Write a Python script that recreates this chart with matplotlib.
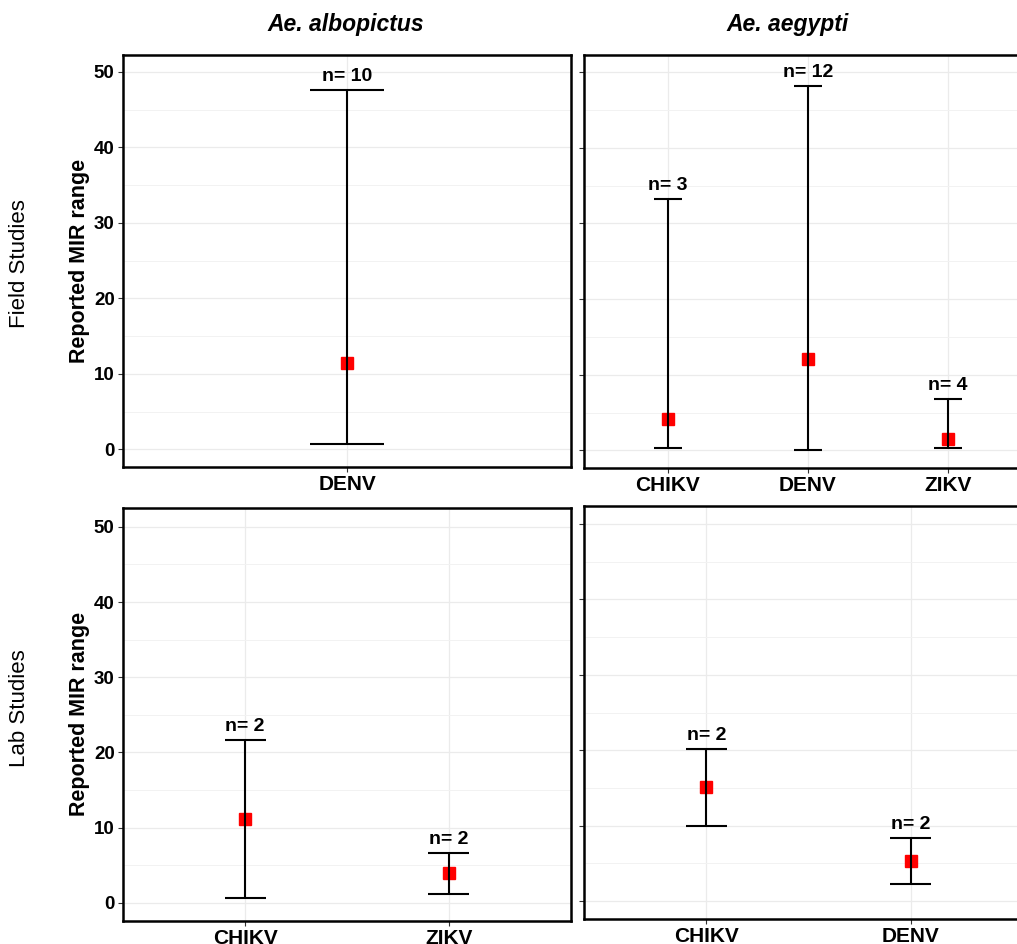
import matplotlib
matplotlib.use('Agg')
import matplotlib.pyplot as plt
from matplotlib.ticker import MultipleLocator

plt.rcParams['font.family'] = ['Liberation Sans', 'DejaVu Sans']

# Field studies - Ae. albopictus
field_albo_virus = ['DENV']
field_albo_low = [0.7]
field_albo_high = [47.6]
field_albo_mean = [11.5]
field_albo_n = [10]

# Field studies - Ae. aegypti
field_aeg_virus = ['CHIKV', 'DENV', 'ZIKV']
field_aeg_low = [0.3, 0.0, 0.3]
field_aeg_high = [33.2, 48.1, 6.8]
field_aeg_mean = [4.1, 12.1, 1.5]
field_aeg_n = [3, 12, 4]

# Lab studies - Ae. albopictus
lab_albo_virus = ['CHIKV', 'ZIKV']
lab_albo_low = [0.7, 1.2]
lab_albo_high = [21.7, 6.7]
lab_albo_mean = [11.2, 4.0]
lab_albo_n = [2, 2]

# Lab studies - Ae. aegypti
lab_aeg_virus = ['CHIKV', 'DENV']
lab_aeg_low = [10.0, 2.2]
lab_aeg_high = [20.2, 8.4]
lab_aeg_mean = [15.1, 5.3]
lab_aeg_n = [2, 2]

W, H = 1017, 944


def px_axes(fig, left, top, right, bottom):
    return fig.add_axes([left / W, 1 - bottom / H, (right - left) / W, (bottom - top) / H])


def draw_panel(ax, viruses, low, high, mean, n, ylim, show_labels):
    xs = list(range(1, len(viruses) + 1))
    ax.set_xlim(0.4, len(viruses) + 0.6)
    ax.set_ylim(*ylim)
    ax.set_xticks(xs)
    ax.set_xticklabels(viruses, fontsize=15, fontweight='bold')
    ax.yaxis.set_major_locator(MultipleLocator(10))
    ax.yaxis.set_minor_locator(MultipleLocator(5))
    ax.grid(which='major', color='#EBEBEB', linewidth=0.9, zorder=0)
    ax.grid(which='minor', axis='y', color='#F2F2F2', linewidth=0.7, zorder=0)
    ax.set_axisbelow(True)
    ax.tick_params(which='major', length=3.5, width=0.8, color='#333333', pad=2.5)
    ax.tick_params(which='minor', length=0)
    ax.tick_params(axis='y', labelsize=13.5)
    for lab in ax.get_yticklabels():
        lab.set_fontweight('bold')
    if not show_labels:
        ax.tick_params(axis='y', labelleft=False)
    for sp in ax.spines.values():
        sp.set_linewidth(1.8)
        sp.set_color('black')

    ax.plot(xs, mean, linestyle='none', marker='s', markersize=8,
            color='#FF0000', zorder=2)
    ax.vlines(xs, low, high, color='black', linewidth=1.5, zorder=3)
    ax.hlines(low, [x - 0.1 for x in xs], [x + 0.1 for x in xs],
              color='black', linewidth=1.5, zorder=3)
    ax.hlines(high, [x - 0.1 for x in xs], [x + 0.1 for x in xs],
              color='black', linewidth=1.5, zorder=3)
    for x, h, k in zip(xs, high, n):
        ax.annotate(f'n= {k}', (x, h), xytext=(0, 6.5), textcoords='offset points',
                    ha='center', va='baseline', fontsize=14, fontweight='bold')


fig = plt.figure(figsize=(W / 100, H / 100), dpi=100)

ax_tl = px_axes(fig, 123, 55, 571, 467)
ax_tr = px_axes(fig, 584, 55, 1032, 468)
ax_bl = px_axes(fig, 123, 508, 571, 921)
ax_br = px_axes(fig, 584, 506, 1033, 919)

draw_panel(ax_tl, field_albo_virus, field_albo_low, field_albo_high, field_albo_mean,
           field_albo_n, (-2.32, 52.25), True)
draw_panel(ax_tr, field_aeg_virus, field_aeg_low, field_aeg_high, field_aeg_mean,
           field_aeg_n, (-2.32, 52.25), False)
draw_panel(ax_bl, lab_albo_virus, lab_albo_low, lab_albo_high, lab_albo_mean,
           lab_albo_n, (-2.4, 52.5), True)
draw_panel(ax_br, lab_aeg_virus, lab_aeg_low, lab_aeg_high, lab_aeg_mean,
           lab_aeg_n, (-2.4, 52.4), False)

# column titles
fig.text(346 / W, 1 - 25 / H, 'Ae. albopictus', ha='center', va='center',
         fontsize=16.5, fontweight='bold', fontstyle='italic')
fig.text(788 / W, 1 - 25 / H, 'Ae. aegypti', ha='center', va='center',
         fontsize=16.5, fontweight='bold', fontstyle='italic')

# y labels
fig.text(80 / W, 1 - 261 / H, 'Reported MIR range', rotation=90, ha='center', va='center',
         fontsize=15.5, fontweight='bold')
fig.text(80 / W, 1 - 714 / H, 'Reported MIR range', rotation=90, ha='center', va='center',
         fontsize=15.5, fontweight='bold')

# row labels
fig.text(20 / W, 1 - 264 / H, 'Field Studies', rotation=90, ha='center', va='center',
         fontsize=16)
fig.text(20 / W, 1 - 708 / H, 'Lab Studies', rotation=90, ha='center', va='center',
         fontsize=16)

fig.savefig('out.png', dpi=100)
plt.close(fig)
